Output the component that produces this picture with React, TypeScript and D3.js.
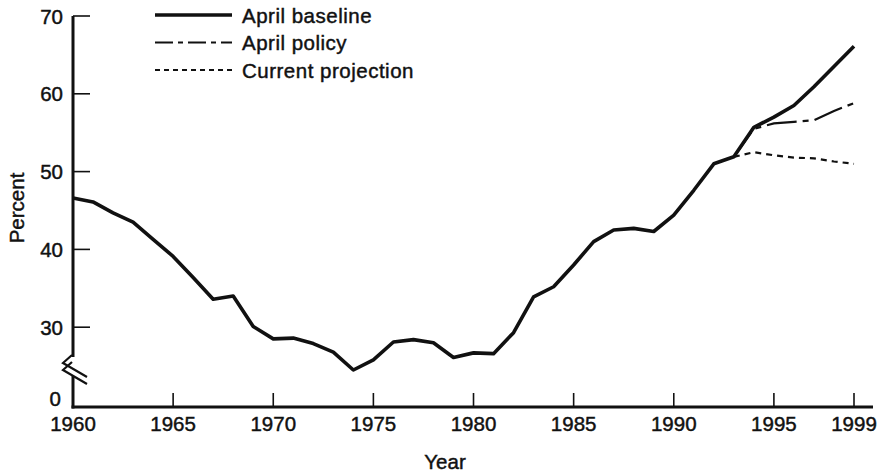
import React from 'react';
import * as d3 from 'd3';

const width = 890;
const height = 476;
const margin = { top: 16, right: 36, bottom: 69, left: 73 };

// axis break: values are drawn on a 20..70 scale, the bottom tick is labelled 0
const years = d3.range(1960, 2000);
const baseline = [
  46.6, 46.1, 44.7, 43.5, 41.3, 39.1, 36.4, 33.6, 34.0, 30.1,
  28.5, 28.6, 27.9, 26.8, 24.5, 25.8, 28.1, 28.4, 28.0, 26.1,
  26.7, 26.6, 29.3, 33.9, 35.2, 38.0, 41.0, 42.5, 42.7, 42.3,
  44.4, 47.6, 51.0, 51.9, 55.7, 57.0, 58.5, 60.9, 63.5, 66.1
];
const policyYears = [1993, 1994, 1995, 1996, 1997, 1998, 1999];
const policy = [51.9, 55.5, 56.2, 56.4, 56.6, 57.8, 58.8];
const currentYears = [1993, 1994, 1995, 1996, 1997, 1998, 1999];
const current = [51.9, 52.5, 52.1, 51.8, 51.7, 51.3, 51.0];

const xTicks = [1960, 1965, 1970, 1975, 1980, 1985, 1990, 1995, 1999];
const yTicks = [30, 40, 50, 60, 70];
const yBottomLabel = '0';

const legendItems = [
  { label: 'April baseline', dash: null, w: 3.4 },
  { label: 'April policy', dash: '18 5 5 5', w: 1.8 },
  { label: 'Current projection', dash: '5 4', w: 1.8 }
];

const font = '"Liberation Sans", Arial, sans-serif';

export default function App() {
  const x = d3.scaleLinear().domain([1960, 1999]).range([margin.left, 854]);
  const y = d3.scaleLinear().domain([20, 70]).range([height - margin.bottom - 2, margin.top]);
  const axisY = height - margin.bottom;

  const line = d3.line<[number, number]>().x(d => x(d[0])).y(d => y(d[1]));
  const basePts = years.map((yr, i) => [yr, baseline[i]] as [number, number]);
  const polPts = policyYears.map((yr, i) => [yr, policy[i]] as [number, number]);
  const curPts = currentYears.map((yr, i) => [yr, current[i]] as [number, number]);

  const breakTop = 357;
  const breakBot = 376;
  const txt = { stroke: '#111', strokeWidth: 0.45 };

  return (
    <svg width={width} height={height} style={{ position: 'absolute', left: 0, top: 0, background: '#fff' }}>
      <g fontFamily={font} fill="#111">
        {/* Y axis with break */}
        <line x1={margin.left} x2={margin.left} y1={y(70)} y2={breakTop} stroke="#111" strokeWidth={3} />
        <line x1={margin.left} x2={margin.left} y1={breakBot} y2={axisY + 1.5} stroke="#111" strokeWidth={3} />
        {[0, 7].map(off => (
          <polyline
            key={off}
            points={`${margin.left - 1},${breakTop - 2 + off} ${margin.left - 10},${breakTop + 6 + off} ${margin.left + 14},${breakTop + 20 + off}`}
            fill="none"
            stroke="#111"
            strokeWidth={2.2}
          />
        ))}
        {yTicks.map(t => (
          <g key={t}>
            <line x1={margin.left} x2={margin.left + 17} y1={y(t)} y2={y(t)} stroke="#111" strokeWidth={1.6} />
            <text x={63} y={y(t)} fontSize={20.5} textAnchor="end" dominantBaseline="central" {...txt}>{t}</text>
          </g>
        ))}
        <text x={61} y={axisY - 9} fontSize={20.5} textAnchor="end" dominantBaseline="central" {...txt}>{yBottomLabel}</text>

        {/* X axis */}
        <line x1={margin.left - 1.5} x2={873} y1={axisY} y2={axisY} stroke="#111" strokeWidth={3} />
        {xTicks.map(t => (
          <g key={t}>
            {t !== 1960 && (
              <line x1={x(t)} x2={x(t)} y1={axisY} y2={axisY - 14} stroke="#111" strokeWidth={1.6} />
            )}
            <text x={x(t)} y={axisY + 16} fontSize={20.5} textAnchor="middle" dominantBaseline="central" {...txt}>{t}</text>
          </g>
        ))}

        <text x={445} y={461} fontSize={20.5} textAnchor="middle" dominantBaseline="central" {...txt}>Year</text>
        <text
          transform={`translate(16, 208) rotate(-90)`}
          fontSize={20.5}
          textAnchor="middle"
          dominantBaseline="central"
          {...txt}
        >
          Percent
        </text>

        {/* Lines */}
        <path d={line(polPts) ?? ''} fill="none" stroke="#111" strokeWidth={2.2} strokeDasharray="30 6 6 6" />
        <path d={line(curPts) ?? ''} fill="none" stroke="#111" strokeWidth={2.2} strokeDasharray="6 5" />
        <path d={line(basePts) ?? ''} fill="none" stroke="#111" strokeWidth={3.6} strokeLinejoin="round" />

        {/* Legend */}
        {legendItems.map((item, i) => {
          const ly = 15 + i * 27.5;
          return (
            <g key={item.label}>
              <line
                x1={155}
                x2={232}
                y1={ly}
                y2={ly}
                stroke="#111"
                strokeWidth={item.w}
                strokeDasharray={item.dash ?? undefined}
              />
              <text x={242} y={ly} fontSize={20.5} dominantBaseline="central" letterSpacing={0.5} {...txt}>
                {item.label}
              </text>
            </g>
          );
        })}
      </g>
    </svg>
  );
}
